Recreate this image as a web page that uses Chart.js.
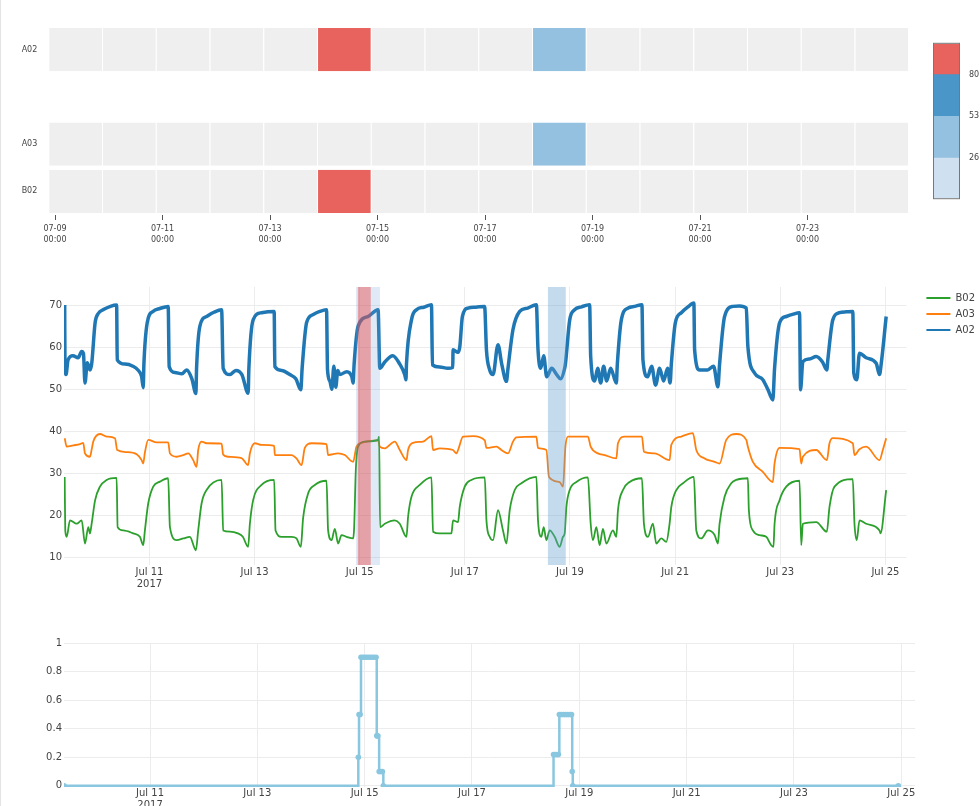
<!DOCTYPE html>
<html>
<head>
<meta charset="utf-8">
<title>Sensor overview</title>
<script src="https://cdn.jsdelivr.net/npm/chart.js@4.4.0/dist/chart.umd.min.js"></script>
<style>
  html, body { margin: 0; padding: 0; background: #fff; overflow: hidden; }
  body { width: 980px; height: 806px; position: relative; }
  .panel { position: absolute; }
  .edge { position: absolute; left: 0; top: 0; width: 1px; height: 806px; background: #e4e4e4; }
</style>
</head>
<body>
<div class="edge"></div>
<div class="panel" style="left:0;top:0"><canvas id="heat" width="925" height="260"></canvas></div>
<div class="panel" style="left:933px;top:37px"><canvas id="scale" width="47" height="168"></canvas></div>
<div class="panel" style="left:0;top:270px"><canvas id="lines" width="990" height="330"></canvas></div>
<div class="panel" style="left:0;top:620px"><canvas id="steps" width="925" height="200"></canvas></div>
<script>
// ---- heatmap (daily cells, x in days of July 2017) ----
const cellStarts = [8.875, 9.875, 10.875, 11.875, 12.875, 13.875, 14.875, 15.875,
                    16.875, 17.875, 18.875, 19.875, 20.875, 21.875, 22.875, 23.875];
const rowNames = ['A02', '', 'A03', 'B02'];
const a02Cells = [0, 0, 0, 0, 0, 90, 0, 0, 0, 40, 0, 0, 0, 0, 0, 0];
const blankCells = [null, null, null, null, null, null, null, null, null, null, null, null, null, null, null, null];
const a03Cells = [0, 0, 0, 0, 0, 0, 0, 0, 0, 40, 0, 0, 0, 0, 0, 0];
const b02Cells = [0, 0, 0, 0, 0, 90, 0, 0, 0, 0, 0, 0, 0, 0, 0, 0];
const heatTickDays = [9, 11, 13, 15, 17, 19, 21, 23];
const heatTickLabels = ['07-09', '07-11', '07-13', '07-15', '07-17', '07-19', '07-21', '07-23'];
const heatTickTime = '00:00';

// colour scale
const colorBounds = [0, 26, 53, 80, 100];
const scaleTicks = [26, 53, 80];

// ---- line panel (x = day of July 2017) ----
const lineTickDays = [11, 13, 15, 17, 19, 21, 23, 25];
const lineTickLabels = ['Jul 11', 'Jul 13', 'Jul 15', 'Jul 17', 'Jul 19', 'Jul 21', 'Jul 23', 'Jul 25'];
const yearLabel = '2017';
const lineYTicks = [10, 20, 30, 40, 50, 60, 70];

const a02Time = [
  9.388, 9.394, 9.413, 9.452, 9.546, 9.643, 9.711, 9.745, 9.774, 9.818,
  9.869, 9.901, 9.967, 10.027, 10.135, 10.259, 10.376, 10.388, 10.534, 10.686,
  10.781, 10.852, 10.882, 10.895, 10.958, 11.067, 11.200, 11.357, 11.376, 11.485,
  11.618, 11.707, 11.808, 11.884, 11.897, 11.960, 12.087, 12.226, 12.373, 12.403,
  12.530, 12.644, 12.759, 12.878, 12.892, 12.973, 13.133, 13.373, 13.386, 13.519,
  13.671, 13.785, 13.880, 13.905, 13.989, 14.108, 14.241, 14.369, 14.388, 14.432,
  14.470, 14.508, 14.545, 14.583, 14.622, 14.755, 14.850, 14.875, 14.894, 14.970,
  15.160, 15.350, 15.382, 15.477, 15.629, 15.762, 15.857, 15.880, 15.890, 15.985,
  16.080, 16.219, 16.365, 16.384, 16.523, 16.675, 16.770, 16.776, 16.871, 16.903,
  16.954, 17.061, 17.207, 17.376, 17.411, 17.473, 17.536, 17.631, 17.702, 17.791,
  17.821, 17.916, 18.044, 18.196, 18.361, 18.392, 18.443, 18.500, 18.557, 18.652,
  18.747, 18.823, 18.899, 18.913, 18.995, 19.090, 19.222, 19.374, 19.394, 19.470,
  19.527, 19.584, 19.641, 19.698, 19.774, 19.882, 19.901, 19.977, 20.103, 20.230,
  20.369, 20.388, 20.477, 20.553, 20.629, 20.705, 20.781, 20.857, 20.905, 20.928,
  21.004, 21.118, 21.238, 21.357, 21.371, 21.466, 21.618, 21.732, 21.814, 21.846,
  21.941, 22.099, 22.226, 22.354, 22.384, 22.511, 22.669, 22.764, 22.859, 22.892,
  22.987, 23.114, 23.234, 23.367, 23.386, 23.430, 23.557, 23.684, 23.804, 23.886,
  23.905, 24.000, 24.127, 24.260, 24.380, 24.399, 24.456, 24.507, 24.635, 24.825,
  24.888, 24.920, 25.015
];
const a02Value = [
  70, 54.6, 53.5, 57, 58, 57.5, 59, 58.5, 51.5, 56.3,
  54.6, 56, 65.8, 68, 69, 69.7, 70, 57, 56, 55.5,
  54.6, 53, 50.4, 56, 65.8, 68.5, 69.2, 69.7, 55.4, 54,
  53.7, 54.6, 52.5, 49, 55, 65, 67.3, 68.3, 68.9, 55,
  53.5, 54.5, 53.5, 49.1, 55, 66.5, 68.2, 68.5, 55.4, 54.5,
  53.5, 52.5, 49.9, 55, 65.8, 67.7, 68.5, 68.9, 54.6, 52,
  50, 55.5, 50.5, 54.5, 53.5, 54.2, 53, 51.5, 56, 65,
  67.3, 68.9, 55, 56.5, 58, 56, 53.5, 52.3, 56, 66.5,
  68.9, 69.5, 70.1, 55.8, 55.3, 55, 55.2, 59.4, 58.8, 60,
  67.3, 69.3, 69.5, 69.7, 59.4, 54.6, 53.5, 60.6, 56, 51.9,
  55, 64.2, 68.5, 69.3, 70.1, 59.4, 55, 58, 53, 55,
  53.5, 52.5, 55, 56, 66.5, 68.9, 69.6, 70.1, 57.8, 52,
  55, 51.5, 55.5, 52, 55, 51.5, 56, 66.5, 69.3, 69.7,
  70.1, 57, 53, 55.5, 51, 55, 52, 55, 51.5, 56,
  65.8, 68.2, 69.5, 70.5, 59.4, 54.6, 54.6, 55.5, 50.6, 56,
  67.3, 69.7, 69.8, 69.3, 60.2, 53.9, 52.3, 50, 47.5, 55,
  65.8, 67.3, 67.8, 68.2, 49.9, 56.6, 57.2, 57.8, 56.5, 54.6,
  57, 66.5, 68.2, 68.4, 68.5, 53.9, 52.3, 58.6, 57.5, 56.2,
  53.5, 56, 67.3
];

const a03Time = [
  9.388, 9.426, 9.551, 9.679, 9.741, 9.774, 9.869, 9.901, 9.932, 10.059,
  10.186, 10.344, 10.388, 10.567, 10.757, 10.852, 10.882, 10.914, 10.977, 11.137,
  11.357, 11.390, 11.517, 11.643, 11.738, 11.833, 11.897, 11.928, 11.992, 12.087,
  12.373, 12.403, 12.498, 12.753, 12.878, 12.911, 13.006, 13.133, 13.373, 13.386,
  13.703, 13.798, 13.894, 13.956, 14.084, 14.369, 14.399, 14.589, 14.717, 14.875,
  14.939, 15.034, 15.350, 15.382, 15.477, 15.667, 15.762, 15.890, 15.920, 16.015,
  16.205, 16.365, 16.395, 16.523, 16.776, 16.840, 16.871, 16.966, 17.156, 17.379,
  17.411, 17.601, 17.696, 17.821, 17.916, 17.981, 18.361, 18.392, 18.551, 18.601,
  18.804, 18.867, 18.913, 18.962, 19.342, 19.394, 19.532, 19.660, 19.882, 19.913,
  20.040, 20.369, 20.407, 20.610, 20.895, 20.928, 21.118, 21.338, 21.403, 21.561,
  21.751, 21.846, 21.973, 22.163, 22.354, 22.384, 22.479, 22.669, 22.859, 22.892,
  22.987, 23.367, 23.399, 23.430, 23.684, 23.886, 23.937, 24.000, 24.380, 24.412,
  24.507, 24.635, 24.888, 24.951, 25.015
];
const a03Value = [
  38.4, 36.4, 36.7, 37.0, 37.3, 34.8, 34.0, 35.7, 37.6, 39.4,
  38.8, 38.4, 35.6, 35.1, 34.6, 33.2, 32.4, 35.0, 38.0, 37.4,
  37.4, 34.8, 34.0, 34.4, 34.8, 33.2, 31.6, 35.6, 37.6, 37.2,
  37.1, 34.5, 34.0, 33.7, 32.0, 34.8, 37.2, 36.8, 36.6, 34.4,
  34.4, 33.6, 32.0, 36.1, 37.2, 37.0, 34.4, 34.8, 34.4, 32.8,
  36.4, 37.3, 37.9, 36.4, 36.0, 37.6, 35.6, 33.2, 35.6, 37.3,
  37.6, 38.9, 35.6, 36.0, 35.6, 34.8, 35.6, 38.8, 38.9, 37.9,
  36.1, 36.4, 35.6, 34.8, 37.6, 38.6, 38.8, 36.1, 35.6, 29.2,
  28.0, 26.9, 36.4, 38.8, 38.8, 36.4, 34.8, 34.4, 33.6, 37.2,
  38.8, 38.8, 35.2, 34.8, 33.2, 36.8, 38.8, 39.6, 35.6, 33.6,
  32.8, 32.4, 38.0, 39.4, 38.0, 36.4, 32.8, 30.4, 28.0, 32.4,
  36.1, 35.8, 32.4, 34.0, 35.6, 33.2, 37.2, 38.4, 37.2, 34.4,
  35.8, 36.4, 33.2, 35.6, 38.4
];

const b02Time = [
  9.388, 9.399, 9.426, 9.489, 9.616, 9.711, 9.774, 9.837, 9.869, 9.901,
  9.967, 10.059, 10.186, 10.376, 10.395, 10.502, 10.692, 10.819, 10.882, 10.914,
  10.977, 11.072, 11.200, 11.357, 11.390, 11.517, 11.643, 11.770, 11.884, 11.928,
  11.992, 12.087, 12.373, 12.403, 12.530, 12.682, 12.777, 12.878, 12.911, 12.973,
  13.133, 13.373, 13.399, 13.513, 13.703, 13.798, 13.880, 13.924, 14.019, 14.146,
  14.369, 14.399, 14.464, 14.527, 14.589, 14.654, 14.749, 14.875, 14.894, 14.926,
  14.970, 15.097, 15.350, 15.369, 15.388, 15.477, 15.667, 15.762, 15.890, 15.920,
  15.985, 16.143, 16.365, 16.395, 16.523, 16.745, 16.776, 16.871, 16.903, 16.998,
  17.125, 17.379, 17.411, 17.473, 17.536, 17.631, 17.726, 17.791, 17.854, 17.949,
  18.076, 18.361, 18.392, 18.456, 18.500, 18.551, 18.614, 18.709, 18.804, 18.867,
  18.899, 18.932, 18.995, 19.122, 19.342, 19.394, 19.437, 19.502, 19.565, 19.627,
  19.692, 19.817, 19.882, 19.913, 20.008, 20.135, 20.369, 20.407, 20.483, 20.578,
  20.642, 20.737, 20.832, 20.895, 20.928, 21.023, 21.149, 21.357, 21.403, 21.498,
  21.624, 21.751, 21.814, 21.846, 21.941, 22.068, 22.163, 22.384, 22.403, 22.479,
  22.606, 22.733, 22.828, 22.871, 22.892, 22.987, 23.114, 23.367, 23.399, 23.430,
  23.684, 23.886, 23.937, 24.032, 24.380, 24.412, 24.456, 24.507, 24.635, 24.888,
  24.907, 25.015
];
const b02Value = [
  29.2, 16.5, 15.0, 18.9, 18.1, 18.9, 13.4, 17.3, 15.8, 18.1,
  23.7, 26.9, 28.5, 29.0, 17.3, 16.5, 15.8, 15.0, 13.0, 16.5,
  22.9, 26.9, 28.1, 28.9, 17.3, 14.2, 14.6, 15.0, 11.8, 16.5,
  22.9, 26.1, 28.5, 16.5, 16.2, 15.8, 15.0, 12.6, 18.1, 23.7,
  27.3, 28.5, 16.5, 15.0, 15.0, 14.6, 12.6, 19.5, 25.3, 27.3,
  28.3, 16.5, 14.2, 16.9, 13.4, 15.4, 15.0, 14.6, 17.0, 30.8,
  36.4, 37.6, 38.0, 38.8, 17.3, 18.1, 18.9, 18.1, 15.0, 19.7,
  24.5, 27.3, 29.1, 16.2, 15.8, 15.8, 18.9, 18.5, 22.1, 26.9,
  28.5, 29.1, 18.9, 15.0, 14.2, 21.3, 16.5, 13.4, 21.3, 26.1,
  27.7, 29.2, 18.9, 15.0, 17.3, 14.2, 16.5, 15.0, 12.6, 15.0,
  15.8, 22.1, 26.1, 28.0, 29.1, 18.1, 14.2, 17.3, 13.0, 16.9,
  13.4, 16.5, 15.0, 21.3, 26.1, 28.0, 28.9, 18.1, 15.0, 18.1,
  13.4, 14.6, 13.8, 18.1, 22.1, 26.1, 27.7, 29.2, 16.5, 14.6,
  16.5, 15.4, 13.4, 18.1, 24.5, 27.7, 28.5, 28.9, 21.3, 16.5,
  15.4, 15.0, 13.0, 12.6, 18.1, 23.7, 26.9, 28.3, 13.0, 18.1,
  18.5, 16.2, 22.1, 26.9, 28.7, 18.1, 14.2, 18.9, 18.1, 16.5,
  15.8, 26.1
];

// highlighted periods on the line panel
const shadeStart = [14.93, 14.965, 18.58];
const shadeEnd = [15.385, 15.21, 18.92];

// ---- score panel (stepped) ----
const stepTime = [
  9.397, 14.882, 14.895, 14.915, 14.932, 14.97, 15.01, 15.05, 15.09, 15.13,
  15.17, 15.212, 15.225, 15.243, 15.27, 15.30, 15.33, 15.348,
  18.52, 18.55, 18.585, 18.61, 18.628, 18.66, 18.70, 18.74, 18.78, 18.82,
  18.855, 18.868, 18.878, 24.945
];
const stepValue = [
  0, 0.2, 0.5, 0.5, 0.9, 0.9, 0.9, 0.9, 0.9, 0.9,
  0.9, 0.9, 0.35, 0.35, 0.1, 0.1, 0.1, 0,
  0.22, 0.22, 0.22, 0.22, 0.5, 0.5, 0.5, 0.5, 0.5, 0.5,
  0.5, 0.1, 0, 0
];
const stepYTicks = [0, 0.2, 0.4, 0.6, 0.8, 1];

Chart.defaults.font.family = "'DejaVu Sans', Verdana, sans-serif";
Chart.defaults.color = '#444';
Chart.defaults.animation = false;

const scaleColors = ['#cfe0f1', '#93c1df', '#4a96c9', '#e8625e'];
const emptyCell = '#efefef';
const gridColor = '#ececec';

function cellColor(v) {
  if (v === null) return 'rgba(0,0,0,0)';
  if (v === 0) return emptyCell;
  for (let i = 1; i < colorBounds.length; i++) {
    if (v <= colorBounds[i]) return scaleColors[i - 1];
  }
  return scaleColors[scaleColors.length - 1];
}

function toPoints(xs, ys) {
  return xs.map((x, i) => ({ x: x, y: ys[i] }));
}

function setTicks(list) {
  return scale => { scale.ticks = list.map(v => ({ value: v })); };
}

// heatmap
const heatRows = [a02Cells, blankCells, a03Cells, b02Cells];
const heatSets = cellStarts.map((start, k) => ({
  data: heatRows.map(row => row[k] === null ? null : [start, start + 1]),
  backgroundColor: heatRows.map(row => cellColor(row[k]))
}));

new Chart(document.getElementById('heat'), {
  type: 'bar',
  data: { labels: rowNames, datasets: heatSets },
  options: {
    responsive: false,
    indexAxis: 'y',
    layout: { padding: { top: 26, right: 16.7, left: 0, bottom: 0 } },
    datasets: {
      bar: {
        grouped: false,
        barPercentage: 0.92,
        categoryPercentage: 1,
        borderSkipped: false,
        borderWidth: { left: 1 },
        borderColor: '#fff'
      }
    },
    scales: {
      x: {
        type: 'linear',
        min: 8.875,
        max: 24.875,
        afterBuildTicks: setTicks(heatTickDays),
        afterFit: s => { s.height = 45; },
        grid: { drawOnChartArea: false, drawTicks: true, tickLength: 5, color: '#555' },
        border: { display: false },
        ticks: {
          autoSkip: false, maxRotation: 0, padding: 3,
          font: { size: 8, lineHeight: 1.45 },
          callback: (v, i) => [heatTickLabels[i], heatTickTime]
        }
      },
      y: {
        afterFit: s => { s.width = 48.3; },
        grid: { display: false },
        border: { display: false },
        ticks: { font: { size: 8 }, padding: 3 }
      }
    },
    plugins: { legend: { display: false }, tooltip: { enabled: false } }
  }
});

// colour bar
new Chart(document.getElementById('scale'), {
  type: 'bar',
  data: {
    labels: [''],
    datasets: colorBounds.slice(1).map((hi, i) => ({
      data: [[colorBounds[i], hi]],
      backgroundColor: scaleColors[i]
    }))
  },
  options: {
    responsive: false,
    layout: { padding: { left: 1, top: 1, bottom: 1, right: 0 } },
    datasets: { bar: { grouped: false, barPercentage: 1, categoryPercentage: 1, borderWidth: 0 } },
    scales: {
      x: { display: false },
      y: {
        position: 'right',
        min: colorBounds[0],
        max: colorBounds[colorBounds.length - 1],
        afterBuildTicks: setTicks(scaleTicks),
        afterFit: s => { s.width = 21; },
        grid: { display: false },
        border: { display: false },
        ticks: { font: { size: 8 }, padding: 2 }
      }
    },
    plugins: { legend: { display: false }, tooltip: { enabled: false } }
  },
  plugins: [{
    id: 'frame',
    afterDraw(chart) {
      const a = chart.chartArea, ctx = chart.ctx;
      ctx.save();
      ctx.strokeStyle = '#777';
      ctx.lineWidth = 1;
      ctx.strokeRect(a.left - 0.5, a.top - 0.5, a.right - a.left + 1, a.bottom - a.top + 1);
      ctx.restore();
    }
  }]
});

// line panel
const shadeColors = ['rgba(110,160,215,0.22)', 'rgba(232,72,72,0.45)', 'rgba(100,160,210,0.38)'];
const shadePlugin = {
  id: 'shades',
  afterDatasetsDraw(chart) {
    const { ctx, chartArea: a } = chart;
    const x = chart.scales.x;
    ctx.save();
    shadeStart.forEach((from, i) => {
      const x0 = x.getPixelForValue(from);
      const x1 = x.getPixelForValue(shadeEnd[i]);
      ctx.fillStyle = shadeColors[i];
      ctx.fillRect(x0, a.top, x1 - x0, a.bottom - a.top);
    });
    ctx.restore();
  }
};

new Chart(document.getElementById('lines'), {
  type: 'line',
  data: {
    datasets: [
      { label: 'B02', data: toPoints(b02Time, b02Value), borderColor: '#2ca02c', backgroundColor: '#2ca02c', borderWidth: 1.8 },
      { label: 'A03', data: toPoints(a03Time, a03Value), borderColor: '#ff7f0e', backgroundColor: '#ff7f0e', borderWidth: 1.8 },
      { label: 'A02', data: toPoints(a02Time, a02Value), borderColor: '#1f77b4', backgroundColor: '#1f77b4', borderWidth: 3.5 }
    ]
  },
  options: {
    responsive: false,
    layout: { padding: { top: 17, right: 5, left: 0, bottom: 0 } },
    elements: {
      point: { radius: 0 },
      line: { cubicInterpolationMode: 'monotone', borderJoinStyle: 'round' }
    },
    scales: {
      x: {
        type: 'linear',
        min: 9.375,
        max: 25.40,
        afterBuildTicks: setTicks(lineTickDays),
        afterFit: s => { s.height = 35; },
        grid: { color: gridColor, drawTicks: false },
        border: { display: false },
        ticks: {
          autoSkip: false, maxRotation: 0, padding: 1,
          font: { size: 10 },
          callback: (v, i) => i === 0 ? [lineTickLabels[i], yearLabel] : lineTickLabels[i]
        }
      },
      y: {
        min: 8.3,
        max: 74.3,
        afterBuildTicks: setTicks(lineYTicks),
        afterFit: s => { s.width = 64; },
        grid: { color: gridColor, drawTicks: false },
        border: { display: false },
        ticks: { font: { size: 10 }, padding: 2 }
      },
      gap: {
        type: 'linear',
        position: 'right',
        afterFit: s => { s.width = 14; },
        grid: { display: false },
        border: { display: false },
        ticks: { display: false }
      }
    },
    plugins: {
      tooltip: { enabled: false },
      legend: {
        position: 'right',
        align: 'start',
        labels: {
          usePointStyle: true,
          pointStyle: 'line',
          pointStyleWidth: 24,
          padding: 6,
          font: { size: 10 },
          color: '#444',
          generateLabels: chart => Chart.defaults.plugins.legend.labels.generateLabels(chart)
            .map(item => Object.assign(item, { lineWidth: 2 }))
        }
      }
    }
  },
  plugins: [shadePlugin]
});

// step panel
new Chart(document.getElementById('steps'), {
  type: 'line',
  data: {
    datasets: [{
      label: 'score',
      data: toPoints(stepTime, stepValue),
      stepped: 'before',
      borderColor: 'rgb(137,199,224)',
      backgroundColor: 'rgb(137,199,224)',
      borderWidth: 2.5,
      pointRadius: 2.8,
      pointBorderWidth: 0
    }]
  },
  options: {
    responsive: false,
    layout: { padding: { top: 23, right: 10, left: 0, bottom: 0 } },
    scales: {
      x: {
        type: 'linear',
        min: 9.397,
        max: 25.256,
        afterBuildTicks: setTicks(lineTickDays),
        afterFit: s => { s.height = 33; },
        grid: { color: gridColor, drawTicks: false },
        border: { display: false },
        ticks: {
          autoSkip: false, maxRotation: 0, padding: 0,
          font: { size: 10 },
          callback: (v, i) => i === 0 ? [lineTickLabels[i], yearLabel] : lineTickLabels[i]
        }
      },
      y: {
        min: -0.008,
        max: 1,
        afterBuildTicks: setTicks(stepYTicks),
        afterFit: s => { s.width = 64; },
        grid: { color: gridColor, drawTicks: false },
        border: { display: false },
        ticks: { font: { size: 10 }, padding: 2, callback: v => String(v) }
      }
    },
    plugins: { legend: { display: false }, tooltip: { enabled: false } }
  }
});
</script>
</body>
</html>
